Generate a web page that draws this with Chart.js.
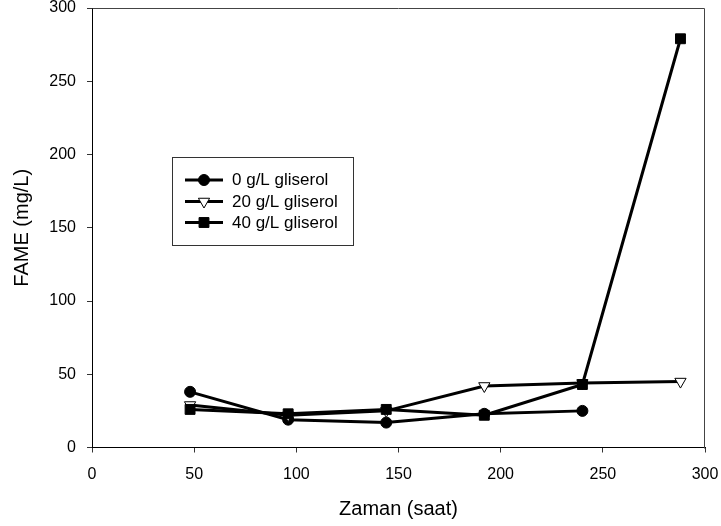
<!DOCTYPE html>
<html>
<head>
<meta charset="utf-8">
<script src="https://cdn.jsdelivr.net/npm/chart.js@4/dist/chart.umd.min.js"></script>
<style>
html,body{margin:0;padding:0;background:#fff;}
#wrap{width:721px;height:526px;position:relative;}
</style>
</head>
<body>
<div id="wrap"><canvas id="c" width="721" height="526"></canvas></div>
<script>
const hours = [48, 96, 144, 192, 240, 288];
const labels = ['0 g/L gliserol', '20 g/L gliserol', '40 g/L gliserol'];
const gl0 = [38, 19, 17, 23, 25];
const gl20 = [29, 22, 25, 42, 44, 45];
const gl40 = [26, 23, 26, 22, 43, 279];
const xTicks = [0, 50, 100, 150, 200, 250, 300];
const yTicks = [0, 50, 100, 150, 200, 250, 300];
const xTitle = 'Zaman (saat)';
const yTitle = 'FAME (mg/L)';

const FONT = "'Liberation Sans', Arial, sans-serif";
function pts(arr){ return arr.map((v,i)=>({x:hours[i], y:v})); }

const styles = [
  {pointStyle:'circle', pointRadius:5.5, pointBackgroundColor:'#000', pointRotation:0},
  {pointStyle:'triangle', pointRadius:6.5, pointBackgroundColor:'#fff', pointRotation:180},
  {pointStyle:'rect', pointRadius:7, pointBackgroundColor:'#000', pointRotation:0}
];
const series = [gl0, gl20, gl40];

const datasets = series.map((s,i)=>({
  label: labels[i],
  data: pts(s),
  borderColor:'#000',
  borderWidth:3,
  pointBorderColor:'#000',
  pointBorderWidth:1,
  pointStyle: styles[i].pointStyle,
  pointRadius: styles[i].pointRadius,
  pointBackgroundColor: styles[i].pointBackgroundColor,
  pointRotation: styles[i].pointRotation,
  tension:0,
  clip:false,
  order: 3 - i
}));

const framePlugin = {
  id:'frame',
  beforeDatasetsDraw(chart){
    const a = chart.chartArea, ctx = chart.ctx;
    ctx.save();
    ctx.strokeStyle = '#444';
    ctx.lineWidth = 1;
    ctx.beginPath();
    ctx.moveTo(Math.round(a.left)+0.5, Math.round(a.top)+0.5);
    ctx.lineTo(Math.round(a.right)-0.5, Math.round(a.top)+0.5);
    ctx.lineTo(Math.round(a.right)-0.5, Math.round(a.bottom)+0.5);
    ctx.stroke();
    ctx.restore();
  }
};

const legendPlugin = {
  id:'boxLegend',
  afterDraw(chart){
    const ctx = chart.ctx;
    const bx = 172.5, by = 157.5, bw = 181, bh = 88;
    ctx.save();
    ctx.fillStyle = '#fff';
    ctx.fillRect(bx, by, bw, bh);
    ctx.strokeStyle = '#333';
    ctx.lineWidth = 1;
    ctx.strokeRect(bx, by, bw, bh);
    const rows = [180, 201.5, 222.5];
    chart.data.datasets.forEach((ds, i) => {
      const y = rows[i];
      ctx.strokeStyle = '#000';
      ctx.lineWidth = 3;
      ctx.beginPath();
      ctx.moveTo(185, y);
      ctx.lineTo(223, y);
      ctx.stroke();
      ctx.fillStyle = ds.pointBackgroundColor;
      ctx.strokeStyle = '#000';
      ctx.lineWidth = 1;
      Chart.helpers.drawPoint(ctx, {pointStyle: ds.pointStyle, radius: ds.pointRadius, rotation: ds.pointRotation, borderWidth:1}, 204, y);
      ctx.fillStyle = '#000';
      ctx.font = '17px ' + FONT;
      ctx.textBaseline = 'middle';
      ctx.textAlign = 'left';
      ctx.fillText(ds.label, 232, y + 0.5);
    });
    ctx.restore();
  }
};

function zeroPad(scale){
  scale.paddingTop = 0; scale.paddingBottom = 0;
  scale.paddingLeft = 0; scale.paddingRight = 0;
}

new Chart(document.getElementById('c'), {
  type:'line',
  data:{datasets},
  plugins:[framePlugin, legendPlugin],
  options:{
    responsive:false,
    animation:false,
    devicePixelRatio:1,
    layout:{padding:{left:0, right:16, top:7.5, bottom:0}},
    plugins:{legend:{display:false}, tooltip:{enabled:false}},
    scales:{
      x:{
        type:'linear', min:0, max:300,
        afterBuildTicks(scale){ scale.ticks = xTicks.map(v=>({value:v})); },
        afterFit(scale){ scale.height = 78.5; zeroPad(scale); },
        grid:{display:true, drawOnChartArea:false, drawTicks:true, tickLength:5, color:'#333', lineWidth:1},
        border:{display:true, color:'#000', width:1},
        ticks:{color:'#000', font:{family:FONT, size:16}, padding:12, maxRotation:0},
        title:{display:true, text:xTitle, color:'#000', font:{family:FONT, size:20}, padding:{top:0, bottom:5}}
      },
      y:{
        type:'linear', min:0, max:300,
        afterBuildTicks(scale){ scale.ticks = yTicks.map(v=>({value:v})); },
        afterFit(scale){ scale.width = 92; zeroPad(scale); },
        grid:{display:true, drawOnChartArea:false, drawTicks:true, tickLength:5, color:'#333', lineWidth:1},
        border:{display:true, color:'#000', width:1},
        ticks:{color:'#000', font:{family:FONT, size:16}, padding:11},
        title:{display:true, text:yTitle, color:'#000', font:{family:FONT, size:20}, padding:{top:10, bottom:0}}
      }
    }
  }
});
</script>
</body>
</html>
